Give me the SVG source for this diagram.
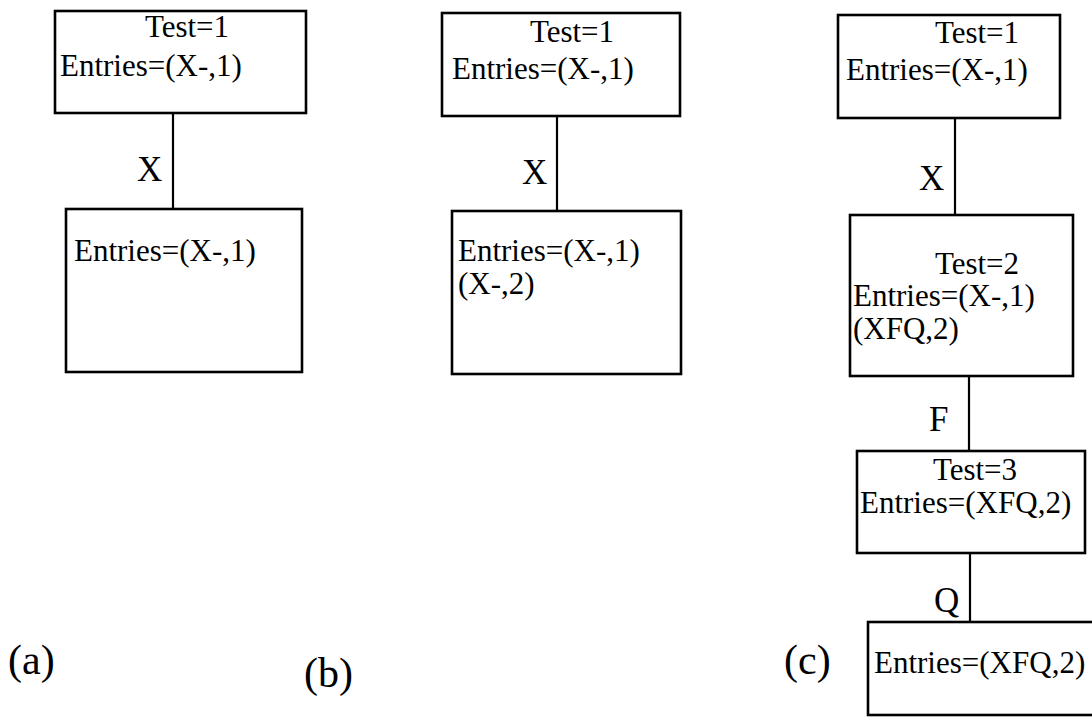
<svg xmlns="http://www.w3.org/2000/svg" width="1092" height="718" viewBox="0 0 1092 718">
  <style>
    .box { fill: #ffffff; stroke: #000000; stroke-width: 2.6; }
    .edge { stroke: #000000; stroke-width: 2.2; fill: none; }
    .mid { text-anchor: middle; }
  </style>
  <rect width="1092" height="718" fill="#ffffff"/>

  <g font-family="Liberation Serif, Times New Roman, serif" fill="#000000">
  <!-- connectors with their edge labels -->
  <g id="connectors" font-size="35">
    <line class="edge" x1="173" y1="113" x2="173" y2="209"/>
    <line class="edge" x1="557" y1="116" x2="557" y2="211"/>
    <line class="edge" x1="955" y1="118" x2="955" y2="215"/>
    <line class="edge" x1="969" y1="376" x2="969" y2="451"/>
    <line class="edge" x1="970" y1="553" x2="970" y2="622"/>
    <text x="137" y="181">X</text>
    <text x="522" y="184">X</text>
    <text x="919" y="190">X</text>
    <text x="929" y="431">F</text>
    <text x="934" y="612">Q</text>
  </g>

  <g font-size="31">
  <!-- tree (a) -->
  <g id="a-root">
    <rect class="box" x="55" y="11" width="251" height="102"/>
    <text class="mid" x="187" y="37">Test=1</text>
    <text x="60" y="76">Entries=(X-,1)</text>
  </g>
  <g id="a-child">
    <rect class="box" x="66" y="209" width="236" height="163"/>
    <text x="74" y="261">Entries=(X-,1)</text>
  </g>

  <!-- tree (b) -->
  <g id="b-root">
    <rect class="box" x="442" y="13" width="238" height="103"/>
    <text class="mid" x="572" y="42">Test=1</text>
    <text x="452" y="79">Entries=(X-,1)</text>
  </g>
  <g id="b-child">
    <rect class="box" x="452" y="211" width="229" height="163"/>
    <text x="458" y="261">Entries=(X-,1)</text>
    <text x="458" y="294">(X-,2)</text>
  </g>

  <!-- tree (c) -->
  <g id="c-root">
    <rect class="box" x="838" y="15" width="222" height="103"/>
    <text class="mid" x="977" y="43">Test=1</text>
    <text x="846" y="80">Entries=(X-,1)</text>
  </g>
  <g id="c-test2">
    <rect class="box" x="850" y="215" width="223" height="161"/>
    <text class="mid" x="977" y="274">Test=2</text>
    <text x="853" y="306">Entries=(X-,1)</text>
    <text x="853" y="339">(XFQ,2)</text>
  </g>
  <g id="c-test3">
    <rect class="box" x="857" y="451" width="228" height="102"/>
    <text class="mid" x="975" y="480">Test=3</text>
    <text x="860" y="513">Entries=(XFQ,2)</text>
  </g>
  <g id="c-leaf">
    <rect class="box" x="868" y="622" width="240" height="93"/>
    <text x="874" y="673">Entries=(XFQ,2)</text>
  </g>
  </g>

  <!-- panel captions -->
  <g font-size="42">
    <text x="8" y="674">(a)</text>
    <text x="304" y="687">(b)</text>
    <text x="784" y="674">(c)</text>
  </g>
  </g>
</svg>
